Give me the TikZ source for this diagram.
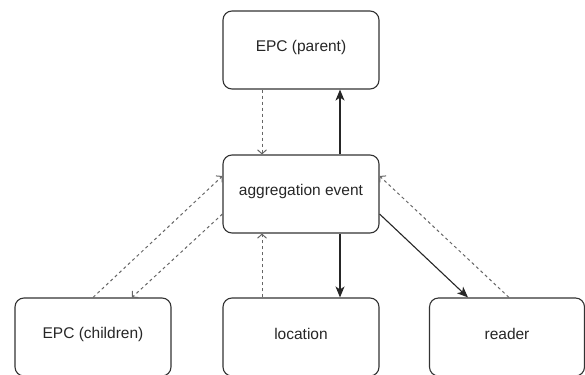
\documentclass[tikz,border=0pt]{standalone}
\usepackage{fontspec}
\setmainfont{Liberation Sans}
\usetikzlibrary{arrows.meta}
\begin{document}
\begin{tikzpicture}[x=1pt,y=-1pt,
  box/.style={draw=black!80, line width=1.1pt, rounded corners=9pt, minimum width=156pt, minimum height=78pt, inner sep=0pt},
  lbl/.style={font=\fontsize{15.5}{18}\selectfont, text=black!85, inner sep=0pt},
  flow/.style={draw=black!85, line width=1.1pt, -{Stealth[length=11pt,width=9pt,inset=3pt]}},
  back/.style={draw=black!60, line width=1pt, dash pattern=on 3pt off 3pt, -{Straight Barb[length=4pt,width=9pt]}}]
\useasboundingbox (0,0) rectangle (585,374);
\node[box] (par) at (301,50) {};
\node[lbl] at (301,47) {EPC (parent)};
\node[box] (ag) at (301,194) {};
\node[lbl] at (301,191) {aggregation event};
\node[box] (ch) at (93,337) {};
\node[lbl] at (93,334) {EPC (children)};
\node[box] (loc) at (301,337) {};
\node[lbl] at (301,334) {location};
\node[box, minimum width=155pt] (rd) at (507,337) {};
\node[lbl] at (507,334) {reader};
\draw[back] ([xshift=-39pt]par.south) -- ([xshift=-39pt]ag.north);
\draw[flow] ([xshift=39pt]ag.north) -- ([xshift=39pt]par.south);
\draw[back] (ch.north) -- ([yshift=18pt]ag.west);
\draw[back] ([yshift=-20pt]ag.west) -- ([xshift=39pt]ch.north);
\draw[back] ([xshift=-39pt]loc.north) -- ([xshift=-39pt]ag.south);
\draw[flow] ([xshift=39pt]ag.south) -- ([xshift=39pt]loc.north);
\draw[flow] ([yshift=-20pt]ag.east) -- ([xshift=-39pt]rd.north);
\draw[back] ([xshift=2pt]rd.north) -- ([yshift=18pt]ag.east);
\end{tikzpicture}
\end{document}
